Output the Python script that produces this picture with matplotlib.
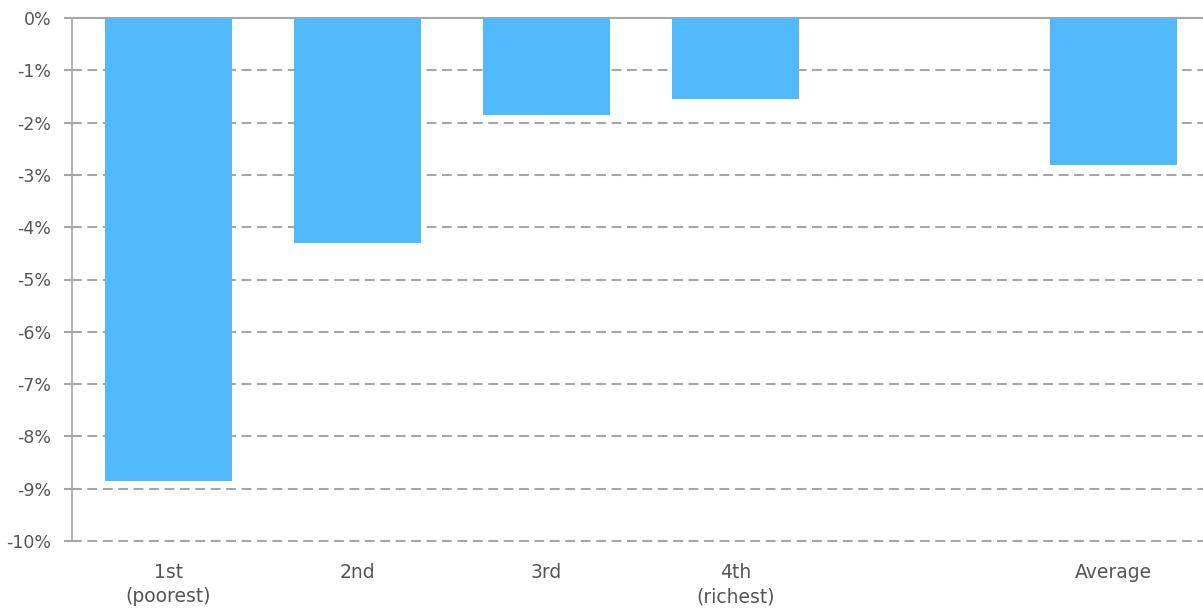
import matplotlib
matplotlib.use("Agg")
import matplotlib.pyplot as plt
from matplotlib.ticker import FuncFormatter

categories = ["1st\n(poorest)", "2nd", "3rd", "4th\n(richest)", "", "Average"]
values = [-8.85, -4.30, -1.85, -1.54, None, -2.82]
y_ticks = [0, -1, -2, -3, -4, -5, -6, -7, -8, -9, -10]

bar_color = "#52B9FC"
grid_color = "#a6a6a6"
text_color = "#555555"

plt.rcParams["font.family"] = ["DejaVu Sans"]

fig = plt.figure(figsize=(12.03, 6.10), dpi=100)
W, H = 1203, 610
ax = fig.add_axes([72 / W, 1 - 541 / H, (1203 - 72) / W, (541 - 18) / H])

xs = [i for i, v in enumerate(values) if v is not None]
hs = [v for v in values if v is not None]
ax.bar(xs, hs, width=0.67, color=bar_color, zorder=3)

ax.set_xlim(-0.51, 5.475)
ax.set_ylim(-10, 0)
ax.set_yticks(y_ticks)
ax.yaxis.set_major_formatter(FuncFormatter(lambda v, p: f"{int(round(v))}%"))

for t in y_ticks:
    if t == 0:
        ax.axhline(t, color=grid_color, lw=1.5, zorder=2, clip_on=False)
    else:
        ax.axhline(t, color=grid_color, lw=1.5, ls=(0, (4.7, 2.7)),
                   zorder=2, clip_on=False)

ax.set_xticks(range(len(categories)))
ax.set_xticklabels(categories, linespacing=1.35)

for side in ["top", "right", "bottom"]:
    ax.spines[side].set_visible(False)
ax.spines["left"].set_color(grid_color)
ax.spines["left"].set_linewidth(1.2)

ax.tick_params(axis="x", length=0, pad=16, labelsize=13.5, labelcolor=text_color)
ax.tick_params(axis="y", length=6, width=1.5, color=grid_color, pad=9,
               labelsize=12.5, labelcolor=text_color)

fig.savefig("out.png", dpi=100)
